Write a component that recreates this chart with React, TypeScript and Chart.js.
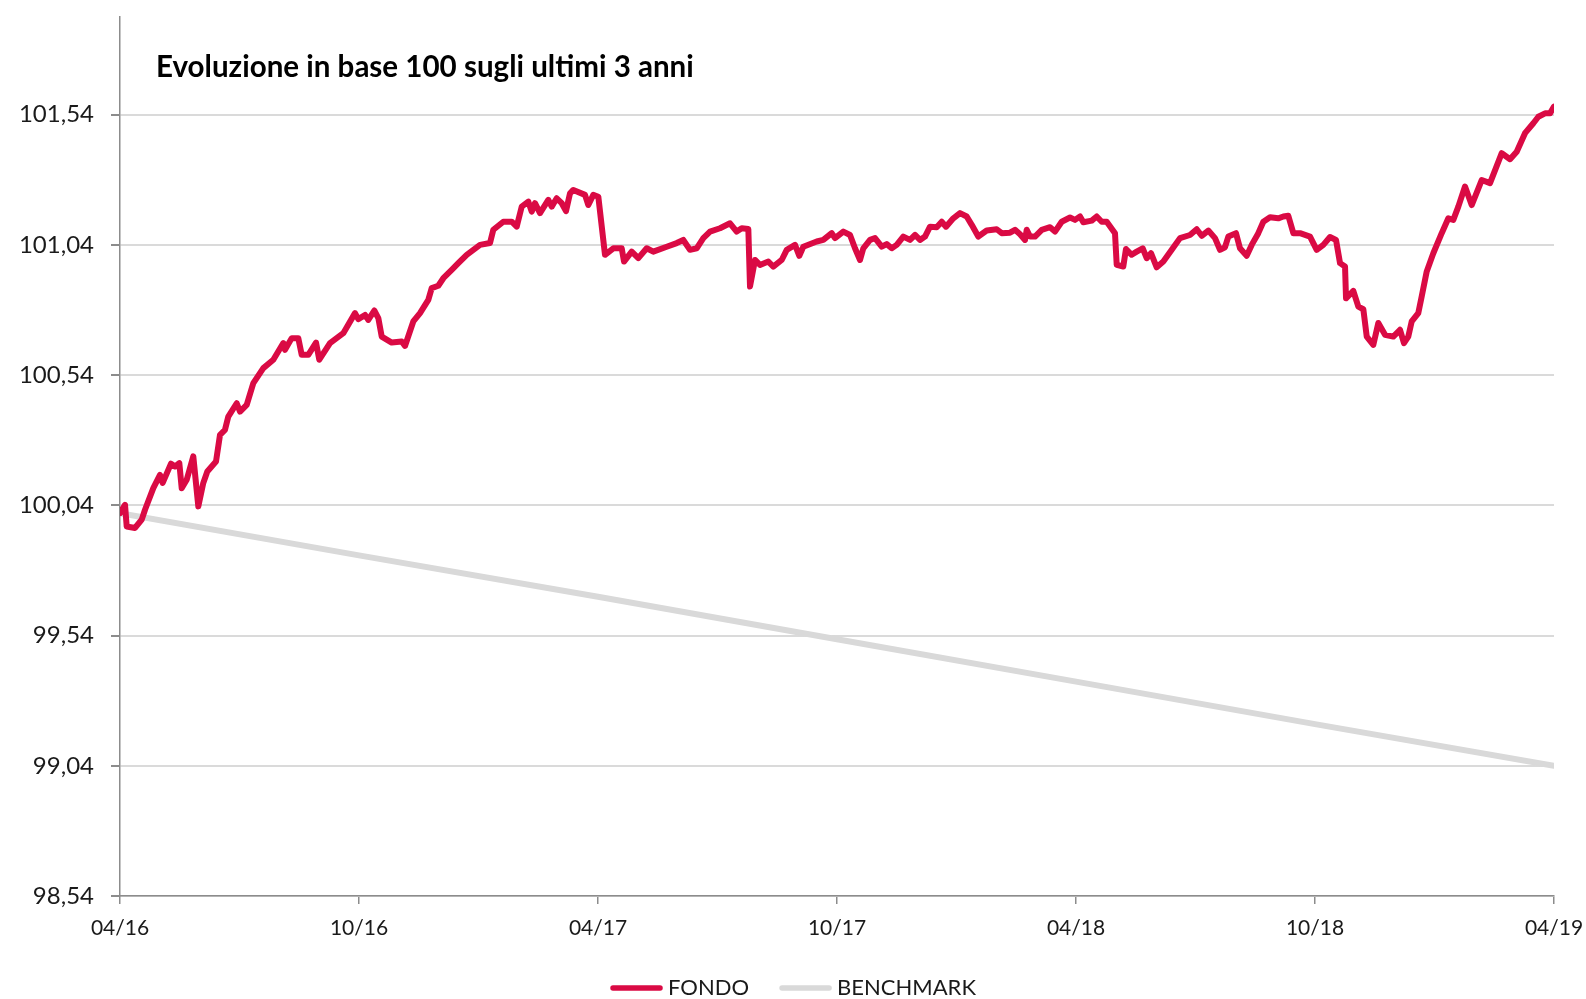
import React, { useEffect, useRef } from "react";
import { Chart, registerables } from "chart.js";

Chart.register(...registerables);

const chartTitle = "Evoluzione in base 100 sugli ultimi 3 anni";
const xTickLabels = ["04/16", "10/16", "04/17", "10/17", "04/18", "10/18", "04/19"];
const yTickValues = [98.54, 99.04, 99.54, 100.04, 100.54, 101.04, 101.54];

// x positions in months since 04/16
const fondoMonths = [
  0, 0.126, 0.168, 0.377, 0.545, 0.628, 0.836, 1.004, 1.072, 1.28, 1.381, 1.489, 1.549, 1.675, 1.84,
  1.966, 2.091, 2.192, 2.41, 2.511, 2.636, 2.719, 2.93, 3.013, 3.181, 3.347, 3.598, 3.849, 4.1, 4.142,
  4.311, 4.476, 4.562, 4.727, 4.921, 5.003, 5.272, 5.606, 5.9, 5.982, 6.151, 6.233, 6.384, 6.485, 6.57,
  6.821, 7.072, 7.155, 7.363, 7.532, 7.74, 7.825, 7.991, 8.117, 8.327, 8.493, 8.704, 9.038,
  9.289, 9.372, 9.623, 9.834, 9.959, 10.085, 10.251, 10.336, 10.418, 10.544, 10.752, 10.838, 10.963,
  11.089, 11.197, 11.297, 11.38, 11.674, 11.757, 11.882, 12.008, 12.176, 12.384, 12.595, 12.653, 12.846,
  13.012, 13.223, 13.388, 13.725, 13.976, 14.141, 14.31, 14.478, 14.644, 14.812, 15.063, 15.314, 15.482,
  15.608, 15.774, 15.816, 15.942, 16.067, 16.276, 16.401, 16.612, 16.738, 16.946, 17.054, 17.154, 17.491,
  17.656, 17.867, 17.95, 18.159, 18.327, 18.452,
  18.578, 18.661, 18.829, 18.954, 19.123, 19.248, 19.374, 19.499, 19.665, 19.833, 19.959, 20.084, 20.21,
  20.335, 20.503, 20.629, 20.737, 20.92, 21.088, 21.256, 21.382, 21.547, 21.758, 22.01, 22.135, 22.344,
  22.469, 22.595, 22.72, 22.763, 22.846, 22.971, 23.14, 23.348, 23.473, 23.641, 23.85, 23.975, 24.101,
  24.184, 24.395, 24.52, 24.646, 24.771, 24.979, 25.022, 25.187, 25.255, 25.398, 25.524, 25.675, 25.775,
  25.883, 26.026, 26.192, 26.403, 26.611, 26.862, 27.03, 27.156, 27.322, 27.49, 27.615, 27.741, 27.824,
  28.017, 28.117, 28.285, 28.411, 28.577,
  28.703, 28.871, 29.079, 29.205, 29.33, 29.456, 29.624, 29.875, 30.043, 30.209, 30.377, 30.528, 30.628,
  30.754, 30.779, 30.962, 31.088, 31.213, 31.299, 31.464, 31.59, 31.758, 31.966, 32.134, 32.234, 32.342,
  32.428, 32.593, 32.679, 32.805, 32.97, 33.181, 33.347, 33.472, 33.598, 33.766, 33.934, 34.185, 34.394,
  34.688, 34.896, 35.064, 35.272, 35.481, 35.607, 35.775, 35.9, 36.0,
];

const fondoValues = [
  100.01, 100.042, 99.959, 99.953, 99.985, 100.023, 100.106, 100.157, 100.126, 100.2, 100.189, 100.202,
  100.106, 100.138, 100.228, 100.036, 100.126, 100.17, 100.208, 100.311, 100.33, 100.381, 100.432, 100.4,
  100.426, 100.509, 100.567, 100.599, 100.663, 100.637, 100.682, 100.682, 100.618, 100.618, 100.665,
  100.599, 100.663, 100.701, 100.778, 100.755, 100.771, 100.752, 100.788, 100.759, 100.688, 100.665,
  100.669, 100.652, 100.746, 100.778, 100.829, 100.874, 100.883, 100.912, 100.944, 100.97, 101.002, 101.04,
  101.047, 101.098, 101.129, 101.129, 101.11, 101.187, 101.206, 101.168, 101.2, 101.162, 101.213, 101.187,
  101.219, 101.2, 101.17, 101.238, 101.251, 101.232, 101.193, 101.232, 101.225, 101.002, 101.027, 101.027,
  100.976, 101.014, 100.989, 101.027, 101.014, 101.033, 101.047, 101.059, 101.021, 101.027, 101.066,
  101.091, 101.104, 101.123, 101.091, 101.104, 101.101, 100.88, 100.982, 100.963, 100.976, 100.957,
  100.982, 101.021, 101.04, 100.998, 101.033, 101.053, 101.059, 101.085, 101.066, 101.091, 101.078, 101.027,
  100.982, 101.027, 101.059, 101.066, 101.033, 101.043, 101.027, 101.04, 101.072, 101.059, 101.078,
  101.059, 101.072, 101.11, 101.108, 101.129, 101.11, 101.142, 101.162, 101.149, 101.117, 101.072, 101.095,
  101.1, 101.085, 101.087, 101.098, 101.081, 101.059, 101.098, 101.072, 101.072, 101.098, 101.108, 101.091,
  101.129, 101.145, 101.136, 101.149, 101.127, 101.133, 101.149, 101.129, 101.129, 101.085, 100.963,
  100.957, 101.024, 101.002, 101.014, 101.027, 100.989, 101.008, 100.954, 100.976, 101.021, 101.066,
  101.078, 101.1, 101.075, 101.095, 101.066, 101.021, 101.031, 101.072, 101.085, 101.027, 100.998, 101.04,
  101.085,
  101.129, 101.146, 101.142, 101.149, 101.152, 101.085, 101.085, 101.072, 101.021, 101.04, 101.07, 101.059,
  100.97, 100.957, 100.835, 100.863, 100.803, 100.793, 100.688, 100.656, 100.74, 100.695, 100.688, 100.714,
  100.663, 100.688, 100.746, 100.778, 100.842, 100.938, 101.008, 101.085, 101.142, 101.136, 101.187,
  101.264, 101.193, 101.289, 101.277, 101.392, 101.369, 101.398, 101.469, 101.507, 101.532, 101.545,
  101.545, 101.571,
];

const benchMonths = [0, 6, 12, 18, 24, 30, 36];
const benchValues = [100.01, 99.848, 99.689, 99.526, 99.363, 99.2, 99.04];

const FONT = "Lato, 'Open Sans', sans-serif";

const titlePlugin = {
  id: "customTitle",
  afterDraw(chart: any) {
    const ctx = chart.ctx;
    ctx.save();
    const base = 26;
    ctx.font = `bold ${base}px ${FONT}`;
    const w = ctx.measureText(chartTitle).width;
    const size = (base * 538) / w;
    ctx.font = `bold ${size}px ${FONT}`;
    ctx.fillStyle = "#000";
    ctx.textAlign = "left";
    ctx.textBaseline = "alphabetic";
    ctx.fillText(chartTitle, 156, 77);
    ctx.restore();
  },
};

const legendPlugin = {
  id: "customLegend",
  afterDraw(chart: any) {
    const ctx = chart.ctx;
    const ds = chart.data.datasets;
    ctx.save();
    ctx.font = `22px ${FONT}`;
    const lineW = 53;
    const gapText = 5;
    const gapItem = 30;
    const widths = ds.map((d: any) => lineW + gapText + ctx.measureText(d.label).width);
    const total = widths.reduce((a: number, b: number) => a + b, 0) + gapItem * (ds.length - 1);
    let x = chart.width / 2 - total / 2;
    const y = 988;
    ds.forEach((d: any, i: number) => {
      ctx.beginPath();
      ctx.strokeStyle = d.borderColor;
      ctx.lineWidth = 5.5;
      ctx.lineCap = "round";
      ctx.moveTo(x + 3, y);
      ctx.lineTo(x + lineW - 3, y);
      ctx.stroke();
      ctx.fillStyle = "#1a1a1a";
      ctx.textAlign = "left";
      ctx.textBaseline = "middle";
      ctx.fillText(d.label, x + lineW + gapText, y);
      x += widths[i] + gapItem;
    });
    ctx.restore();
  },
};

const clearPadding = (s: any) => {
  s.paddingTop = 0;
  s.paddingBottom = 0;
  s.paddingLeft = 0;
  s.paddingRight = 0;
};

export default function App() {
  const ref = useRef<HTMLCanvasElement | null>(null);

  useEffect(() => {
    if (!ref.current) return;
    const fondo = fondoMonths.map((m, i) => ({ x: m, y: fondoValues[i] }));
    const bench = benchMonths.map((m, i) => ({ x: m, y: benchValues[i] }));
    const chart = new Chart(ref.current, {
      type: "line",
      data: {
        datasets: [
          {
            label: "FONDO",
            data: fondo,
            borderColor: "#DA0A44",
            borderWidth: 6,
            pointRadius: 0,
            tension: 0,
            borderJoinStyle: "round",
            borderCapStyle: "round",
            fill: false,
          },
          {
            label: "BENCHMARK",
            data: bench,
            borderColor: "#D9D9D9",
            borderWidth: 6,
            pointRadius: 0,
            tension: 0,
            borderCapStyle: "round",
            fill: false,
          },
        ],
      },
      options: {
        responsive: true,
        maintainAspectRatio: false,
        animation: false,
        layout: { padding: { top: 17, right: 32, left: 0, bottom: 0 } },
        plugins: {
          legend: { display: false },
          tooltip: { enabled: false },
          title: { display: false },
        },
        scales: {
          x: {
            type: "linear",
            min: 0,
            max: 36,
            ticks: {
              stepSize: 6,
              autoSkip: false,
              maxRotation: 0,
              padding: 12,
              color: "#1a1a1a",
              font: { family: FONT, size: 21 },
              callback: (v: any) => xTickLabels[Math.round(Number(v) / 6)] ?? "",
            },
            grid: { drawOnChartArea: false, drawTicks: true, tickLength: 8, color: "#8c8c8c", lineWidth: 1.5 },
            border: { color: "#8c8c8c", width: 1.5 },
            afterFit: (s: any) => {
              s.height = 103;
              clearPadding(s);
            },
          },
          y: {
            type: "linear",
            min: 98.54,
            max: 101.915,
            afterBuildTicks: (s: any) => {
              s.ticks = yTickValues.map((v) => ({ value: v }));
            },
            ticks: {
              padding: 17,
              color: "#1a1a1a",
              font: { family: FONT, size: 24 },
              callback: (v: any) => Number(v).toFixed(2).replace(".", ","),
            },
            grid: { color: "#DADADA", lineWidth: 2, tickColor: "#8c8c8c", tickLength: 9, drawTicks: true },
            border: { color: "#8c8c8c", width: 1.5 },
            afterFit: (s: any) => {
              s.width = 120;
              clearPadding(s);
            },
          },
        },
      },
      plugins: [titlePlugin, legendPlugin],
    } as any);
    return () => chart.destroy();
  }, []);

  return (
    <div style={{ position: "absolute", left: 0, top: 0, width: 1586, height: 999, background: "#fff" }}>
      <canvas ref={ref} />
    </div>
  );
}
